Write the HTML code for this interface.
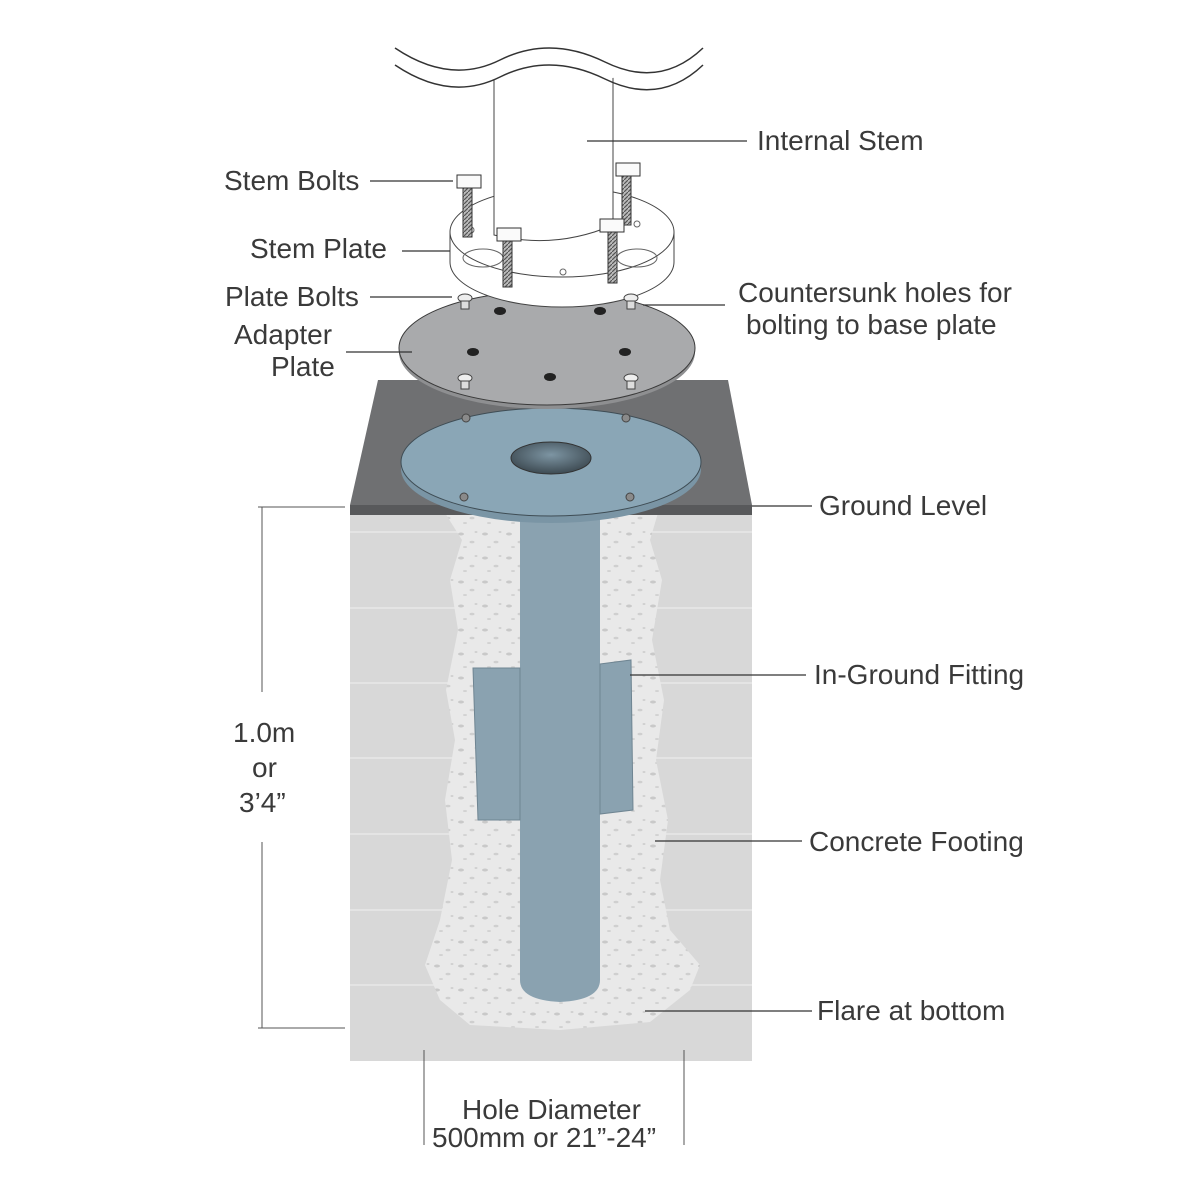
<!DOCTYPE html>
<html><head><meta charset="utf-8"><style>
html,body{margin:0;padding:0;background:#fff}
svg{display:block}
text{font-family:"Liberation Sans",sans-serif;font-size:28px;fill:#3a3a3a}
</style></head><body>
<svg width="1200" height="1200" viewBox="0 0 1200 1200">
<defs>
<pattern id="spk" width="24" height="24" patternUnits="userSpaceOnUse">
<rect width="24" height="24" fill="#e9e9e9"/>
<ellipse cx="5" cy="6" rx="3" ry="1.5" fill="#c9c9c9"/>
<ellipse cx="16" cy="14" rx="2.5" ry="1.3" fill="#cfcfcf"/>
<ellipse cx="9" cy="19" rx="2" ry="1" fill="#d2d2d2"/>
<ellipse cx="20" cy="4" rx="1.5" ry="1" fill="#d0d0d0"/>
</pattern>
<pattern id="thr" width="4" height="4" patternUnits="userSpaceOnUse">
<rect width="4" height="4" fill="#bbb"/><path d="M0 4L4 0" stroke="#555" stroke-width="1.2"/>
</pattern>
<radialGradient id="hole" cx="0.5" cy="0.4" r="0.6"><stop offset="0" stop-color="#7d95a3"/><stop offset="1" stop-color="#3d4a52"/></radialGradient>
</defs>

<!-- soil block -->
<rect x="350" y="513" width="402" height="548" fill="#d8d8d8"/>
<g stroke="#e8e8e8" stroke-width="1.5">
<line x1="350" y1="532" x2="752" y2="532"/><line x1="350" y1="608" x2="752" y2="608"/>
<line x1="350" y1="683" x2="752" y2="683"/><line x1="350" y1="758" x2="752" y2="758"/>
<line x1="350" y1="834" x2="752" y2="834"/><line x1="350" y1="910" x2="752" y2="910"/>
<line x1="350" y1="985" x2="752" y2="985"/>
</g>
<!-- concrete footing -->
<path d="M445 513 L462 540 L450 580 L458 630 L446 690 L455 740 L445 800 L452 860 L440 920 L425 965 L440 1000 L470 1025 L560 1030 L650 1022 L690 990 L700 965 L670 930 L660 880 L668 820 L656 760 L664 700 L652 640 L662 580 L650 540 L658 513 Z" fill="url(#spk)"/>

<!-- slab -->
<path d="M378 380 L728 380 L752 505 L350 505 Z" fill="#6f7072"/>
<rect x="350" y="505" width="402" height="10" fill="#58595b"/>

<!-- pipe -->
<path d="M520 505 L600 505 L600 980 Q600 1000 560 1002 Q520 1000 520 980 Z" fill="#8aa2b0"/>
<!-- fitting -->
<path d="M473 668 L520 668 L520 820 L478 820 Z" fill="#8aa2b0" stroke="#6f8592"/>
<path d="M600 664 L631 660 L633 810 L600 814 Z" fill="#8aa2b0" stroke="#6f8592"/>

<!-- base plate -->
<ellipse cx="551" cy="469" rx="150" ry="54" fill="#7a95a5"/>
<ellipse cx="551" cy="462" rx="150" ry="54" fill="#8aa6b6" stroke="#3f4d55" stroke-width="1"/>
<ellipse cx="551" cy="458" rx="40" ry="16" fill="url(#hole)" stroke="#333"/>
<g fill="#8a8a8a" stroke="#444"><circle cx="466" cy="418" r="4"/><circle cx="626" cy="418" r="4"/><circle cx="464" cy="497" r="4"/><circle cx="630" cy="497" r="4"/></g>

<!-- adapter plate -->
<ellipse cx="547" cy="352" rx="148" ry="57" fill="#8e8f91"/>
<ellipse cx="547" cy="348" rx="148" ry="57" fill="#a9aaac" stroke="#3a3a3a" stroke-width="1"/>
<g fill="#222"><ellipse cx="500" cy="311" rx="6" ry="4"/><ellipse cx="600" cy="311" rx="6" ry="4"/><ellipse cx="473" cy="352" rx="6" ry="4"/><ellipse cx="625" cy="352" rx="6" ry="4"/><ellipse cx="550" cy="377" rx="6" ry="4"/></g>

<!-- stem plate -->
<path d="M450 232 L450 262 A112 45 0 0 0 674 262 L674 232 Z" fill="#fff" stroke="#444" stroke-width="1"/>
<ellipse cx="562" cy="232" rx="112" ry="45" fill="#fff" stroke="#444" stroke-width="1"/>
<ellipse cx="483" cy="258" rx="20" ry="9" fill="none" stroke="#666"/>
<ellipse cx="637" cy="258" rx="20" ry="9" fill="none" stroke="#666"/>
<circle cx="563" cy="272" r="3" fill="none" stroke="#666"/>
<circle cx="471" cy="230" r="3" fill="none" stroke="#666"/>
<circle cx="637" cy="224" r="3" fill="none" stroke="#666"/>

<g fill="#eee" stroke="#444"><ellipse cx="465" cy="298" rx="7" ry="4"/><ellipse cx="631" cy="298" rx="7" ry="4"/><ellipse cx="465" cy="378" rx="7" ry="4"/><ellipse cx="631" cy="378" rx="7" ry="4"/></g>
<g fill="#ddd" stroke="#444"><rect x="461" y="301" width="8" height="8"/><rect x="627" y="301" width="8" height="8"/><rect x="461" y="381" width="8" height="8"/><rect x="627" y="381" width="8" height="8"/></g>

<!-- stem -->
<path d="M494 76 L613 76 L613 225 Q555 250 494 235 Z" fill="#fff" stroke="#444" stroke-width="1"/>
<path d="M395 48 Q450 85 500 60 T605 62 T703 48 L703 65 T605 79 T500 77 Q450 102 395 65 Z" fill="#fff" stroke="none"/>
<path d="M395 48 Q450 85 500 60 T605 62 T703 48" fill="none" stroke="#333" stroke-width="1.5"/>
<path d="M395 65 Q450 102 500 77 T605 79 T703 65" fill="none" stroke="#333" stroke-width="1.5"/>

<!-- bolts -->
<g stroke="#333" stroke-width="1">
<rect x="463" y="187" width="9" height="50" fill="url(#thr)"/><rect x="457" y="175" width="24" height="13" fill="#fafafa"/>
<rect x="622" y="175" width="9" height="50" fill="url(#thr)"/><rect x="616" y="163" width="24" height="13" fill="#fafafa"/>
<rect x="503" y="240" width="9" height="47" fill="url(#thr)"/><rect x="497" y="228" width="24" height="13" fill="#fafafa"/>
<rect x="608" y="231" width="9" height="52" fill="url(#thr)"/><rect x="600" y="219" width="24" height="13" fill="#fafafa"/>
</g>

<!-- leader lines -->
<g stroke="#333" stroke-width="1.3">
<line x1="587" y1="141" x2="747" y2="141"/>
<line x1="370" y1="181" x2="453" y2="181"/>
<line x1="402" y1="251" x2="450" y2="251"/>
<line x1="370" y1="297" x2="452" y2="297"/>
<line x1="643" y1="305" x2="725" y2="305"/>
<line x1="346" y1="352" x2="412" y2="352"/>
<line x1="752" y1="506" x2="812" y2="506"/>
<line x1="630" y1="675" x2="806" y2="675"/>
<line x1="655" y1="841" x2="802" y2="841"/>
<line x1="645" y1="1011" x2="812" y2="1011"/>
</g>
<g stroke="#555" stroke-width="1">
<line x1="258" y1="507" x2="345" y2="507"/><line x1="258" y1="1028" x2="345" y2="1028"/>
<line x1="262" y1="507" x2="262" y2="692"/><line x1="262" y1="842" x2="262" y2="1028"/>
<line x1="424" y1="1050" x2="424" y2="1145"/><line x1="684" y1="1050" x2="684" y2="1145"/>
</g>

<!-- labels -->
<text x="757" y="150">Internal Stem</text>
<text x="224" y="190">Stem Bolts</text>
<text x="250" y="258">Stem Plate</text>
<text x="225" y="306">Plate Bolts</text>
<text x="738" y="302">Countersunk holes for</text>
<text x="746" y="334">bolting to base plate</text>
<text x="234" y="344">Adapter</text>
<text x="271" y="376">Plate</text>
<text x="819" y="515">Ground Level</text>
<text x="814" y="684">In-Ground Fitting</text>
<text x="809" y="851">Concrete Footing</text>
<text x="817" y="1020">Flare at bottom</text>
<text x="233" y="742">1.0m</text>
<text x="252" y="777">or</text>
<text x="239" y="812">3’4”</text>
<text x="462" y="1119">Hole Diameter</text>
<text x="432" y="1147">500mm or 21”-24”</text>
</svg>
</body></html>
